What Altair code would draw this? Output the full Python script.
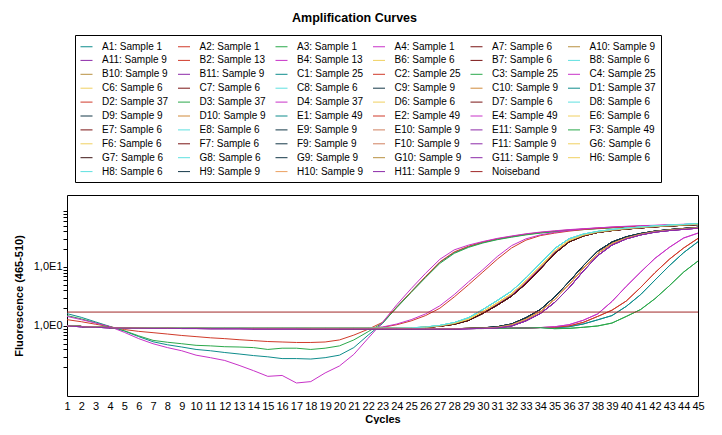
import altair as alt
import pandas as pd

cycles = list(range(1, 46))
noiseband_level = 1.72
y_tick_values = [0.2, 0.3, 0.4, 0.5, 0.6, 0.7, 0.8, 0.9, 1, 2, 3, 4, 5, 6, 7, 8, 9,
                 10, 20, 30, 40, 50, 60, 70, 80, 90]

# ---- curves (fluorescence per cycle 1..45) ----
s1_a1 = [1.62, 1.4, 1.17, 0.98, 0.82, 0.66, 0.54, 0.48, 0.44, 0.40, 0.38, 0.355, 0.335, 0.315, 0.30,
         0.28, 0.28, 0.275, 0.29, 0.32, 0.43, 0.70, 1.1, 2.1, 3.8, 6.8, 12.0, 17.5, 22.0, 26.0,
         29.5, 32.5, 35.5, 38.0, 40.0, 42.0, 43.5, 45.0, 46.5, 47.5, 48.5, 49.5, 50.5, 51.5, 52.5]
s1_a2 = [1.28, 1.18, 1.07, 0.97, 0.87, 0.81, 0.77, 0.73, 0.69, 0.66, 0.63, 0.61, 0.585, 0.565, 0.545,
         0.535, 0.525, 0.525, 0.535, 0.58, 0.70, 0.88, 1.15, 2.1, 3.8, 6.9, 12.2, 18.0, 22.5, 26.5,
         30.0, 33.0, 36.0, 38.5, 40.5, 42.5, 44.0, 45.5, 47.0, 48.0, 49.0, 50.0, 51.0, 52.0, 53.0]
s1_a3 = [1.5, 1.32, 1.13, 0.97, 0.83, 0.68, 0.57, 0.53, 0.50, 0.47, 0.46, 0.445, 0.44, 0.43, 0.40,
         0.42, 0.42, 0.40, 0.42, 0.46, 0.58, 0.80, 1.12, 2.05, 3.7, 6.6, 11.5, 17.0, 21.5, 25.5,
         29.0, 32.0, 35.0, 37.5, 39.5, 41.5, 43.0, 44.5, 46.0, 47.0, 48.0, 49.0, 50.0, 51.0, 52.0]
s1_a4 = [1.45, 1.28, 1.12, 0.97, 0.78, 0.61, 0.50, 0.43, 0.38, 0.32, 0.29, 0.26, 0.215, 0.175, 0.14,
         0.145, 0.108, 0.114, 0.16, 0.21, 0.33, 0.62, 1.15, 2.3, 4.3, 7.8, 13.5, 19.5, 23.5, 27.0,
         30.5, 33.5, 36.5, 39.0, 41.0, 43.0, 44.5, 46.0, 47.5, 48.5, 49.5, 50.5, 51.5, 52.5, 53.5]

s13_b2 = [1.0, 0.98, 0.96, 0.94, 0.93, 0.93, 0.925, 0.92, 0.92, 0.92, 0.915, 0.915, 0.91, 0.91, 0.91,
          0.91, 0.91, 0.91, 0.91, 0.91, 0.91, 0.92, 0.95, 1.05, 1.22, 1.5, 2.0, 3.1, 5.0, 8.2,
          13.5, 21.0, 28.5, 34.0, 37.5, 40.5, 43.0, 45.0, 46.5, 48.0, 49.0, 50.0, 51.0, 52.0, 53.0]
s13_b4 = [1.0, 0.98, 0.96, 0.94, 0.93, 0.93, 0.925, 0.92, 0.92, 0.92, 0.915, 0.915, 0.91, 0.91, 0.91,
          0.91, 0.91, 0.91, 0.91, 0.91, 0.91, 0.92, 0.96, 1.08, 1.28, 1.6, 2.2, 3.4, 5.6, 9.0,
          15.0, 23.0, 30.0, 35.0, 38.5, 41.5, 44.0, 46.0, 47.5, 49.0, 50.0, 51.0, 52.0, 53.0, 54.0]

s6_cyan = [1.0, 0.98, 0.96, 0.94, 0.93, 0.93, 0.93, 0.925, 0.925, 0.92, 0.92, 0.92, 0.92, 0.915, 0.915,
           0.915, 0.915, 0.915, 0.915, 0.915, 0.915, 0.915, 0.915, 0.92, 0.93, 0.96, 1.02, 1.14, 1.38, 1.9,
           2.7, 3.9, 6.5, 11.5, 20.5, 30.0, 36.0, 40.0, 43.0, 45.5, 47.5, 49.5, 51.0, 52.5, 54.0]
s6_yellow = [1.0, 0.98, 0.96, 0.94, 0.93, 0.93, 0.93, 0.925, 0.925, 0.92, 0.92, 0.92, 0.92, 0.915, 0.915,
             0.915, 0.915, 0.915, 0.915, 0.915, 0.915, 0.915, 0.915, 0.92, 0.93, 0.95, 1.0, 1.1, 1.3, 1.75,
             2.45, 3.5, 5.8, 10.2, 18.5, 28.0, 34.5, 39.0, 42.0, 44.5, 46.5, 48.5, 50.0, 51.5, 53.0]
s6_darkred = [1.0, 0.98, 0.96, 0.94, 0.93, 0.93, 0.93, 0.925, 0.925, 0.92, 0.92, 0.92, 0.92, 0.915, 0.915,
              0.915, 0.915, 0.915, 0.915, 0.915, 0.915, 0.915, 0.915, 0.92, 0.93, 0.945, 0.99, 1.07, 1.24, 1.63,
              2.25, 3.2, 5.2, 9.2, 16.8, 26.5, 33.5, 38.5, 41.5, 44.0, 46.0, 48.0, 49.5, 51.0, 52.5]
s25 = [1.0, 0.98, 0.96, 0.94, 0.93, 0.93, 0.93, 0.925, 0.925, 0.92, 0.92, 0.92, 0.92, 0.915, 0.915,
       0.915, 0.915, 0.915, 0.915, 0.915, 0.915, 0.915, 0.915, 0.92, 0.93, 0.95, 1.0, 1.09, 1.28, 1.7,
       2.35, 3.35, 5.5, 9.8, 17.5, 27.0, 34.0, 38.5, 41.5, 44.0, 46.0, 48.0, 49.5, 51.0, 52.0]

s9_navy = [1.0, 0.98, 0.96, 0.94, 0.93, 0.925, 0.92, 0.92, 0.915, 0.915, 0.91, 0.91, 0.91, 0.905, 0.905,
           0.905, 0.905, 0.9, 0.9, 0.9, 0.9, 0.9, 0.9, 0.9, 0.9, 0.9, 0.9, 0.9, 0.91, 0.93,
           0.97, 1.08, 1.38, 1.9, 3.1, 5.6, 10.5, 18.5, 26.5, 32.5, 37.0, 40.5, 43.0, 45.0, 47.0]
s9_orange = [1.0, 0.98, 0.96, 0.94, 0.93, 0.925, 0.92, 0.92, 0.915, 0.915, 0.91, 0.91, 0.91, 0.905, 0.905,
             0.905, 0.905, 0.9, 0.9, 0.9, 0.9, 0.9, 0.9, 0.9, 0.9, 0.9, 0.9, 0.9, 0.91, 0.92,
             0.95, 1.05, 1.3, 1.75, 2.8, 5.0, 9.5, 17.0, 25.0, 31.0, 36.0, 40.0, 42.5, 44.5, 46.5]
s9_purple = [1.0, 0.97, 0.95, 0.93, 0.92, 0.915, 0.91, 0.91, 0.905, 0.905, 0.9, 0.9, 0.9, 0.895, 0.895,
             0.895, 0.895, 0.89, 0.89, 0.89, 0.89, 0.89, 0.89, 0.89, 0.89, 0.89, 0.89, 0.89, 0.9, 0.91,
             0.93, 1.0, 1.22, 1.62, 2.5, 4.4, 8.5, 15.5, 23.5, 30.0, 35.0, 39.0, 41.5, 43.5, 45.5]

late_base = [1.0, 0.98, 0.96, 0.94, 0.93, 0.93, 0.925, 0.92, 0.92, 0.92, 0.915, 0.915, 0.91, 0.91, 0.91,
             0.91, 0.91, 0.905, 0.905, 0.905, 0.905, 0.905, 0.905, 0.905, 0.905, 0.905, 0.905, 0.905, 0.905, 0.905,
             0.91, 0.915, 0.925, 0.94]
late_magenta = late_base + [0.97, 1.05, 1.25, 1.6, 2.6, 4.7, 8.2, 14.0, 21.5, 31.0, 37.5]
late_red = late_base + [0.95, 1.0, 1.15, 1.45, 1.85, 2.65, 4.5, 8.0, 13.5, 21.0, 30.5]
late_teal = late_base + [0.93, 0.97, 1.08, 1.27, 1.5, 2.15, 3.4, 6.0, 10.5, 17.5, 26.8]
late_green = late_base + [0.9, 0.91, 0.95, 1.0, 1.12, 1.45, 1.9, 2.9, 4.8, 8.2, 12.6]

curves = {
    "s1_a1": s1_a1, "s1_a2": s1_a2, "s1_a3": s1_a3, "s1_a4": s1_a4,
    "s13_b2": s13_b2, "s13_b4": s13_b4,
    "s6_cyan": s6_cyan, "s6_yellow": s6_yellow, "s6_darkred": s6_darkred, "s25": s25,
    "s9_navy": s9_navy, "s9_orange": s9_orange, "s9_purple": s9_purple,
    "late_magenta": late_magenta, "late_red": late_red, "late_teal": late_teal, "late_green": late_green,
}

TEAL, RED, GREEN, MAGENTA = "#0e8c8c", "#d03a2a", "#2aa84a", "#c832c8"
DARKRED, DARKRED2 = "#7a1414", "#3e1616"
GOLD, ORANGE, SALMON, LORANGE = "#b89040", "#d08a3a", "#d08060", "#eca060"
PURPLE, YELLOW, CYAN, NAVY = "#8c2aa8", "#f0d060", "#5ee0e0", "#143848"
NOISE = "#a02828"

# legend order (row by row, 6 columns)
wells = [
    ("A1: Sample 1", TEAL, "s1_a1"), ("A2: Sample 1", RED, "s1_a2"), ("A3: Sample 1", GREEN, "s1_a3"),
    ("A4: Sample 1", MAGENTA, "s1_a4"), ("A7: Sample 6", DARKRED, "s6_darkred"), ("A10: Sample 9", GOLD, "s9_orange"),
    ("A11: Sample 9", PURPLE, "s9_purple"), ("B2: Sample 13", RED, "s13_b2"), ("B4: Sample 13", MAGENTA, "s13_b4"),
    ("B6: Sample 6", YELLOW, "s6_yellow"), ("B7: Sample 6", DARKRED, "s6_darkred"), ("B8: Sample 6", CYAN, "s6_cyan"),
    ("B10: Sample 9", GOLD, "s9_orange"), ("B11: Sample 9", PURPLE, "s9_purple"), ("C1: Sample 25", TEAL, "s25"),
    ("C2: Sample 25", RED, "s25"), ("C3: Sample 25", GREEN, "s25"), ("C4: Sample 25", MAGENTA, "s25"),
    ("C6: Sample 6", YELLOW, "s6_yellow"), ("C7: Sample 6", DARKRED, "s6_darkred"), ("C8: Sample 6", CYAN, "s6_cyan"),
    ("C9: Sample 9", NAVY, "s9_navy"), ("C10: Sample 9", ORANGE, "s9_orange"), ("D1: Sample 37", TEAL, "late_teal"),
    ("D2: Sample 37", RED, "late_red"), ("D3: Sample 37", GREEN, "late_green"), ("D4: Sample 37", MAGENTA, "late_magenta"),
    ("D6: Sample 6", YELLOW, "s6_yellow"), ("D7: Sample 6", DARKRED, "s6_darkred"), ("D8: Sample 6", CYAN, "s6_cyan"),
    ("D9: Sample 9", NAVY, "s9_navy"), ("D10: Sample 9", ORANGE, "s9_orange"), ("E1: Sample 49", TEAL, "late_teal"),
    ("E2: Sample 49", RED, "late_red"), ("E4: Sample 49", MAGENTA, "late_magenta"), ("E6: Sample 6", YELLOW, "s6_yellow"),
    ("E7: Sample 6", DARKRED, "s6_darkred"), ("E8: Sample 6", CYAN, "s6_cyan"), ("E9: Sample 9", NAVY, "s9_navy"),
    ("E10: Sample 9", SALMON, "s9_orange"), ("E11: Sample 9", PURPLE, "s9_purple"), ("F3: Sample 49", GREEN, "late_green"),
    ("F6: Sample 6", YELLOW, "s6_yellow"), ("F7: Sample 6", DARKRED, "s6_darkred"), ("F9: Sample 9", NAVY, "s9_navy"),
    ("F10: Sample 9", SALMON, "s9_orange"), ("F11: Sample 9", PURPLE, "s9_purple"), ("G6: Sample 6", YELLOW, "s6_yellow"),
    ("G7: Sample 6", DARKRED2, "s6_darkred"), ("G8: Sample 6", CYAN, "s6_cyan"), ("G9: Sample 9", NAVY, "s9_navy"),
    ("G10: Sample 9", GOLD, "s9_orange"), ("G11: Sample 9", PURPLE, "s9_purple"), ("H6: Sample 6", YELLOW, "s6_yellow"),
    ("H8: Sample 6", CYAN, "s6_cyan"), ("H9: Sample 9", NAVY, "s9_navy"), ("H10: Sample 9", LORANGE, "s9_orange"),
    ("H11: Sample 9", PURPLE, "s9_purple"),
]

rows = []
for label, _, key in wells:
    vals = curves[key]
    assert len(vals) == len(cycles), key
    for c, v in zip(cycles, vals):
        rows.append({"cycle": c, "value": v, "label": label})
df = pd.DataFrame(rows)

legend_labels = [w[0] for w in wells] + ["Noiseband"]
legend_colors = [w[1] for w in wells] + [NOISE]
color_scale = alt.Scale(domain=legend_labels, range=legend_colors)

legend = alt.Legend(
    orient="none", legendX=8, legendY=-160, columns=6, direction="horizontal", gridAlign="all",
    symbolLimit=200, symbolType="stroke", symbolSize=144, symbolStrokeWidth=1,
    labelFont="Liberation Sans", labelFontSize=10, labelColor="black", labelOffset=9,
    columnPadding=6.5, rowPadding=1.9, padding=5,
    strokeColor="black", fillColor="white",
)

x_enc = alt.X(
    "cycle:Q",
    scale=alt.Scale(domain=[1, 45], nice=False, zero=False),
    axis=alt.Axis(values=cycles, format="d", title="Cycles", ticks=False, domain=False, grid=False,
                  labelPadding=4, labelOverlap=False, labelFlush=False, labelFontSize=11,
                  titleFontSize=11, titleFontWeight="bold", titlePadding=2),
)
y_enc = alt.Y(
    "value:Q",
    scale=alt.Scale(type="log", domain=[0.065, 166], nice=False),
    axis=alt.Axis(values=y_tick_values,
                  labelExpr="datum.value == 1 ? '1,0E0' : (datum.value == 10 ? '1,0E1' : '')",
                  title="Fluorescence (465-510)", grid=False, domain=False, tickSize=4,
                  tickColor="black", labelPadding=1, labelOverlap=False, labelFontSize=11,
                  titleFontSize=11, titleFontWeight="bold", titlePadding=9),
)

lines = alt.Chart(df).mark_line(strokeWidth=1, clip=True).encode(
    x=x_enc, y=y_enc,
    color=alt.Color("label:N", scale=color_scale, title=None, legend=legend),
)

noise_df = pd.DataFrame({"label": ["Noiseband"], "value": [noiseband_level]})
rule = alt.Chart(noise_df).mark_rule(strokeWidth=1).encode(
    y=alt.Y("value:Q"),
    color=alt.Color("label:N", scale=color_scale, title=None, legend=legend),
)

chart = alt.layer(lines, rule).properties(
    width=631, height=201,
    padding={"left": 5, "top": 4, "right": 5, "bottom": 0},
    title=alt.TitleParams("Amplification Curves", font="Liberation Sans", fontSize=12.5,
                          fontWeight="bold", color="black", offset=10, anchor="middle", dx=-28),
).configure_view(stroke="black", strokeWidth=1).configure_axis(
    labelFont="Liberation Sans", titleFont="Liberation Sans", labelColor="black", titleColor="black"
)

chart.save("out.html", embed_options={"renderer": "svg", "actions": False})
